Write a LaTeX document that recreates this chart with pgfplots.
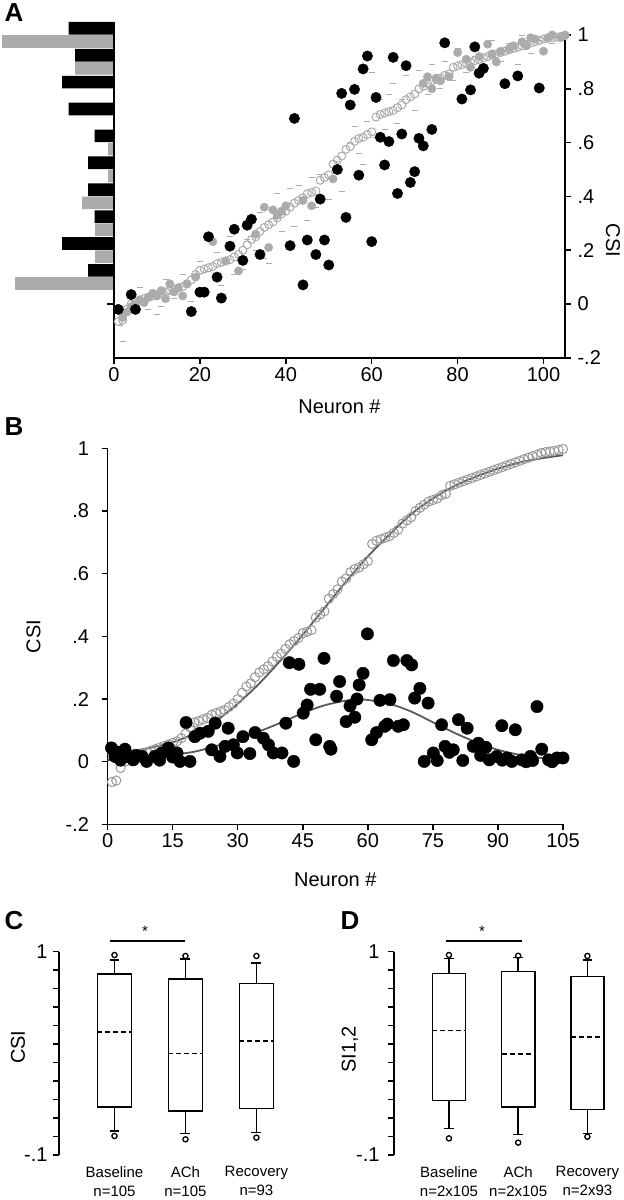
\documentclass[border=0pt]{standalone}
\usepackage{fontspec}
\setmainfont{Liberation Sans}
\usepackage{pgfplots}
\usepackage{pgfplotstable}
\pgfplotsset{compat=1.18}
\usepgfplotslibrary{statistics}
\definecolor{lgray}{HTML}{ABABAB}
\definecolor{mgray}{HTML}{999999}
\definecolor{dgray}{HTML}{5A5A5A}

\pgfplotstableread{
x y
1 -0.065
2 -0.06
3 -0.02
4 0.0
5 0.01
6 0.015
7 0.02
8 0.025
9 0.03
10 0.035
11 0.04
12 0.045
13 0.05
14 0.055
15 0.06
16 0.065
17 0.075
18 0.09
19 0.11
20 0.125
21 0.13
22 0.135
23 0.14
24 0.15
25 0.155
26 0.16
27 0.165
28 0.175
29 0.185
30 0.2
31 0.22
32 0.24
33 0.25
34 0.27
35 0.285
36 0.295
37 0.305
38 0.32
39 0.335
40 0.345
41 0.36
42 0.375
43 0.385
44 0.395
45 0.41
46 0.415
47 0.42
48 0.46
49 0.47
50 0.48
51 0.52
52 0.535
53 0.55
54 0.575
55 0.585
56 0.605
57 0.615
58 0.62
59 0.63
60 0.64
61 0.695
62 0.705
63 0.71
64 0.715
65 0.72
66 0.73
67 0.74
68 0.76
69 0.77
70 0.78
71 0.80
72 0.81
73 0.82
74 0.83
75 0.835
76 0.84
77 0.85
78 0.855
79 0.88
80 0.885
81 0.89
82 0.895
83 0.90
84 0.905
85 0.91
86 0.915
87 0.92
88 0.925
89 0.93
90 0.935
91 0.94
92 0.945
93 0.95
94 0.955
95 0.96
96 0.965
97 0.97
98 0.975
99 0.98
100 0.985
101 0.988
102 0.99
103 0.992
104 0.995
105 0.998
}\opencsi

\pgfplotsset{
  base/.style={scale only axis, anchor=south west, clip=false,
    font=\fontsize{20}{24}\selectfont,
    tick label style={font=\fontsize{20}{24}\selectfont},
    /pgf/number format/assume math mode=true,
    axis line style={line width=1.5pt},
    tick style={line width=1.5pt, black},
    major tick length=6pt, minor tick length=5pt,
    tick align=outside},
  boxbase/.style={base, ymin=-0.1, ymax=1, height=203.3pt,
    axis y line*=left, axis x line*=bottom,
    x axis line style={draw=none}, xtick style={draw=none},
    xtick={1,2,3},
    xticklabel style={align=center, font=\fontsize{15}{19}\selectfont, yshift=-2pt},
    ytick={-0.1,1}, yticklabels={-.1,1},
    minor ytick={0,0.1,0.2,0.3,0.4,0.5,0.6,0.7,0.8,0.9},
    minor tick length=6pt,
    boxplot/draw direction=y,
    boxplot/box extend=0.48, boxplot/whisker extend=0.14,
    boxplot/every median/.style={dash pattern=on 5pt off 3pt}},
  bx/.style={black, line width=1.6pt, mark=o, mark size=2.6pt, mark options={solid, line width=1.3pt}},
}
\begin{document}
\begin{tikzpicture}[x=1pt,y=1pt]
\useasboundingbox (0pt,0pt) rectangle (624pt,-1200pt);

% ---------------- Panel A: histogram ----------------
\begin{axis}[base, at={(0pt,-357.8pt)}, width=114pt, height=326pt,
  xmin=0, xmax=17.54, x dir=reverse, ymin=-0.2, ymax=1.012, axis lines=none]
\addplot[xbar, bar width=0.047, bar shift=0pt, fill=black, draw=none] coordinates {
(7,1.025) (6,0.925) (8,0.825) (7,0.725) (3,0.625) (4,0.525) (4,0.425) (3,0.325) (8,0.225) (4,0.125)};
\addplot[xbar, bar width=0.047, bar shift=0pt, fill=lgray, draw=none] coordinates {
(17.2,0.976) (6,0.876) (0,0.776) (0,0.676) (0.9,0.576) (0.9,0.476) (4.9,0.376) (2.9,0.276) (2.9,0.176) (15.2,0.076)};
\end{axis}

% ---------------- Panel A: main scatter ----------------
\begin{axis}[base, at={(114pt,-357.8pt)}, width=451pt, height=326pt,
  xmin=0, xmax=105, ymin=-0.2, ymax=1.012,
  axis x line*=bottom, axis y line*=right,
  xtick={0,20,40,60,80,100},
  ytick={-0.2,0,0.2,0.4,0.6,0.8,1}, yticklabels={-.2,0,.2,.4,.6,.8,1},
  yticklabel style={xshift=3pt}]
\addplot[only marks, mark=-, mark size=3pt, color=lgray, mark options={line width=0.9pt}] coordinates {
(2,-0.14) (1.5,-0.08) (3,-0.03) (6,0.06) (8,-0.02) (10,-0.04) (12,0.09) (14,0.02) (16,0.11) (18,0.01)
(20,0.16) (21,0.06) (24,0.19) (25,0.07) (27,0.25) (28,0.11) (30,0.13) (31,0.24) (33,0.20) (34,0.34)
(36,0.15) (38,0.41) (39,0.27) (41,0.43) (42,0.29) (43,0.44) (45,0.31) (47,0.36) (48,0.48) (50,0.39)
(52,0.53) (53,0.42) (55,0.60) (56,0.66) (57,0.56) (59,0.68) (61,0.62) (62,0.76) (63,0.65) (64,0.78)
(66,0.67) (67,0.76) (68,0.85) (70,0.72) (71,0.87) (73,0.78) (74,0.89) (76,0.80) (77,0.90) (79,0.83)
(80,0.95) (82,0.86) (84,0.92) (86,0.88) (88,0.98) (90,0.90) (92,0.97) (94,0.89) (95,1.0) (97,0.93)
(99,0.98) (100,0.95) (102,0.97) (60,0.86) (65,0.82) (58,0.52) (46,0.47) (35,0.17) (22,0.12) (11,-0.01)};
\addplot[only marks, mark=o, mark size=4pt, color=lgray, mark options={line width=1pt}] table {\opencsi};
\addplot[only marks, mark=*, mark size=4.2pt, color=lgray] coordinates {
(2,-0.05) (3,-0.03) (4,-0.01) (5,0.0) (6,0.015) (7,0.005) (8,0.025) (9,0.04) (10,0.03) (11,0.05)
(12,0.02) (13,0.075) (14,0.045) (15,0.06) (16,0.03) (17,0.075) (19,0.10) (23,0.232) (26,0.16) (29,0.123)
(33,0.26) (35,0.36) (36,0.21) (37,0.35) (38,0.33) (39,0.345) (40,0.365) (44,0.385) (46,0.365) (51,0.465)
(72,0.82) (73,0.845) (74,0.80) (75,0.84) (76,0.83) (78,0.845) (80,0.935) (82,0.91) (83,0.88) (85,0.92)
(87,0.966) (88,0.93) (89,0.90) (90,0.94) (92,0.95) (93,0.96) (95,0.975) (96,0.96) (97,0.99) (98,0.985)
(100,0.94) (101,0.99) (102,1.0) (104,0.99) (105,1.0)};
\addplot[only marks, mark=*, mark size=5.2pt, color=black] coordinates {
(1,-0.02) (4,0.035) (5,-0.02) (18,-0.028) (20,0.044) (21,0.044) (22,0.25) (24,0.10) (25,0.022) (27,0.215)
(28,0.278) (30,0.162) (31,0.293) (32,0.315) (34,0.184) (41,0.217) (42,0.69) (44,0.071) (45,0.238) (47,0.184)
(48,0.39) (49,0.238) (50,0.145) (52,0.50) (53,0.783) (54,0.322) (55,0.74) (56,0.798) (57,0.479) (58,0.874)
(59,0.922) (60,0.232) (61,0.768) (62,0.62) (63,0.517) (64,0.604) (65,0.917) (66,0.411) (67,0.632) (68,0.886)
(69,0.452) (70,0.492) (71,0.616) (72,0.588) (74,0.649) (77,0.971) (81,0.762) (83,0.796) (84,0.956) (85,0.858)
(86,0.876) (91,0.819) (94,0.848) (99,0.803)};
\draw[line width=1.5pt] (axis cs:0,-0.2) -- (axis cs:0,1.05);
\draw[line width=1.5pt] (axis cs:0,0) -- ++(-7pt,0pt);
\node[anchor=center, yshift=-49pt] at (rel axis cs:0.5,0) {Neuron \#};
\node[anchor=center, xshift=48pt, rotate=-90] at (rel axis cs:1,0.36) {CSI};
\end{axis}
\node[font=\fontsize{26}{30}\selectfont\bfseries] at (14pt,-13pt) {A};

% ---------------- Panel B ----------------
\begin{axis}[base, at={(107.6pt,-824.4pt)}, width=455.4pt, height=376.1pt,
  xmin=0, xmax=105, ymin=-0.2, ymax=1,
  axis x line*=bottom, axis y line*=left,
  xtick={0,15,30,45,60,75,90,105},
  ytick={-0.2,0,0.2,0.4,0.6,0.8,1}, yticklabels={-.2,0,.2,.4,.6,.8,1},
  yticklabel style={xshift=-9pt}]
\addplot[only marks, mark=o, mark size=4.6pt, color=mgray, mark options={line width=1pt}] table {\opencsi};
\addplot[only marks, mark=*, mark size=6.2pt, color=black] coordinates {
(0.9,0.044) (1.7,0.017) (2.5,0.03) (3,0.005) (4,0.04) (4.4,0.017) (5.9,0.006) (6.5,0.02) (7.9,0.017) (9,0.001)
(10.9,0.017) (12,0.005) (12.5,0.028) (14,0.044) (15,0.015) (16,0.028) (16.7,0.001) (18.1,0.125) (19,0.001) (20.1,0.08)
(21.3,0.091) (23.2,0.097) (24,0.038) (24.8,0.123) (25.9,0.017) (27.1,0.049) (27.8,0.107) (29,0.054) (29.9,0.028) (31.2,0.08)
(32.8,0.026) (34,0.093) (35.9,0.075) (37.1,0.054) (38.2,0.028) (40.2,0.028) (41.1,0.123) (41.9,0.316) (42.9,0.001) (44.1,0.311)
(45.1,0.155) (46,0.181) (46.8,0.231) (48,0.07) (48.9,0.231) (49.9,0.33) (51.2,0.049) (51.5,0.040) (52.8,0.209) (53.5,0.256)
(55,0.128) (55.9,0.178) (57,0.142) (57.5,0.2) (58,0.245) (58.9,0.282) (59.9,0.408) (60.9,0.07) (62,0.093) (62.8,0.196)
(63.9,0.113) (64.5,0.12) (65.1,0.198) (65.9,0.323) (67,0.113) (68.2,0.118) (69,0.323) (70.1,0.309) (70.8,0.203) (72,0.234)
(73,0.001) (73.9,0.187) (75.1,0.028) (76,0.004) (77,0.118) (77.8,0.049) (78.8,0.03) (79.7,0.038) (80.9,0.134) (81.9,0.004)
(82.9,0.107) (84.3,0.049) (85.5,0.059) (86,0.02) (87.2,0.046) (88,0.006) (89.7,0.017) (90.9,0.115) (91,0.005) (92.1,0.012)
(93.2,0.001) (94,0.102) (95.5,0.006) (96.5,0.0) (97.5,0.017) (98,0.004) (99,0.176) (100.1,0.04) (101.7,0.006) (102.5,0.0)
(103.6,0.012) (105,0.012)};
\addplot[dgray, line width=1.8pt, smooth, no marks] coordinates {
(0,0.025) (5,0.033) (10,0.045) (15,0.062) (20,0.09) (25,0.13) (30,0.185) (35,0.25) (40,0.325) (45,0.405) (50,0.49)
(55,0.575) (60,0.655) (65,0.725) (70,0.79) (75,0.84) (80,0.88) (85,0.91) (90,0.935) (95,0.955) (100,0.968) (105,0.978)};
\addplot[dgray, line width=1.8pt, smooth, no marks] coordinates {
(0,0.005) (5,0.008) (10,0.014) (15,0.022) (20,0.032) (25,0.05) (30,0.072) (35,0.097) (40,0.125) (45,0.155) (50,0.18)
(55,0.195) (58,0.198) (60,0.197) (65,0.185) (70,0.16) (75,0.126) (80,0.092) (85,0.062) (90,0.038) (95,0.022) (100,0.012) (105,0.005)};
\node[anchor=center, yshift=-55pt] at (rel axis cs:0.5,0) {Neuron \#};
\node[anchor=center, xshift=-74pt, rotate=90] at (rel axis cs:0,0.5) {CSI};
\end{axis}
\node[font=\fontsize{26}{30}\selectfont\bfseries] at (14pt,-427pt) {B};

% ---------------- Panel C ----------------
\begin{axis}[boxbase, at={(59pt,-1155pt)}, width=240pt, xmin=0.218, xmax=3.6,
  xticklabels={{Baseline\\n=105},{ACh\\n=105},{Recovery\\n=93}},
  yticklabel style={xshift=-2pt}]
\addplot[bx, boxplot prepared={draw position=1, median=0.567, upper quartile=0.879, lower quartile=0.161, upper whisker=0.955, lower whisker=0.030}] coordinates {(0,0.982) (0,0.003)};
\addplot[bx, boxplot prepared={draw position=2, median=0.450, upper quartile=0.852, lower quartile=0.138, upper whisker=0.959, lower whisker=0.017}] coordinates {(0,0.977) (0,-0.015)};
\addplot[bx, boxplot prepared={draw position=3, median=0.518, upper quartile=0.829, lower quartile=0.152, upper whisker=0.940, lower whisker=0.021}] coordinates {(0,0.977) (0,-0.006)};
\draw[line width=1.5pt] (axis cs:0.93,1.058) -- (axis cs:2.0,1.058);
\node[font=\fontsize{15}{18}\selectfont] at (axis cs:1.43,1.11) {*};
\node[anchor=center, xshift=-41pt, rotate=90] at (rel axis cs:0,0.53) {CSI};
\end{axis}
\node[font=\fontsize{26}{30}\selectfont\bfseries] at (14pt,-921pt) {C};

% ---------------- Panel D ----------------
\begin{axis}[boxbase, at={(394pt,-1155pt)}, width=228pt, xmin=0.206, xmax=3.5,
  xticklabels={{Baseline\\n=2x105},{ACh\\n=2x105},{Recovery\\n=2x93}},
  yticklabel style={xshift=-5pt}]
\addplot[bx, boxplot prepared={draw position=1, median=0.573, upper quartile=0.883, lower quartile=0.194, upper whisker=0.964, lower whisker=0.044}] coordinates {(0,0.982) (0,-0.010)};
\addplot[bx, boxplot prepared={draw position=2, median=0.446, upper quartile=0.892, lower quartile=0.161, upper whisker=0.969, lower whisker=0.012}] coordinates {(0,0.978) (0,-0.033)};
\addplot[bx, boxplot prepared={draw position=3, median=0.537, upper quartile=0.865, lower quartile=0.147, upper whisker=0.955, lower whisker=0.017}] coordinates {(0,0.977) (0,-0.001)};
\draw[line width=1.5pt] (axis cs:0.957,1.058) -- (axis cs:2.054,1.058);
\node[font=\fontsize{15}{18}\selectfont] at (axis cs:1.477,1.11) {*};
\node[anchor=center, xshift=-44pt, rotate=90] at (rel axis cs:0,0.52) {SI1,2};
\end{axis}
\node[font=\fontsize{26}{30}\selectfont\bfseries] at (350pt,-921pt) {D};

\end{tikzpicture}
\end{document}
